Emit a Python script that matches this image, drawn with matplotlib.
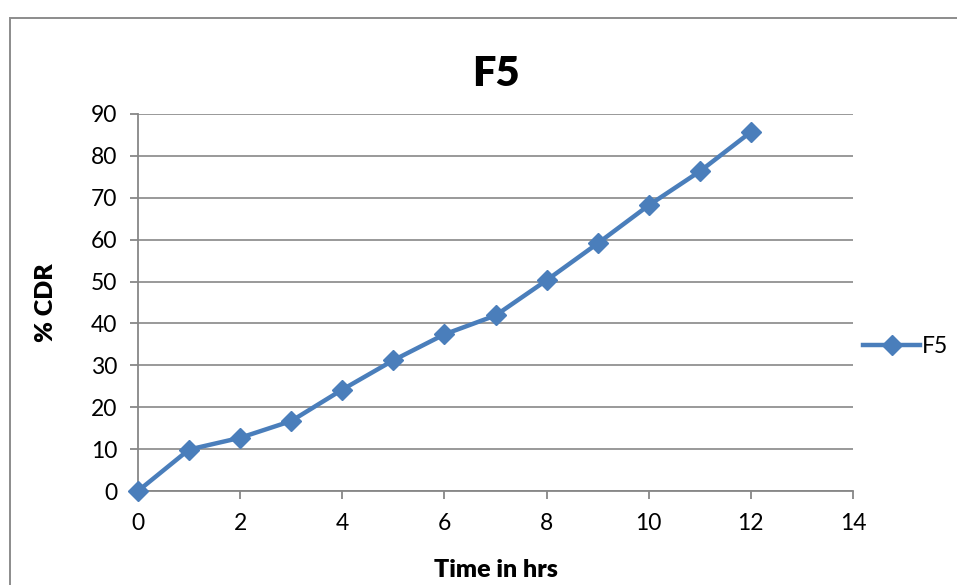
"""Cumulative drug release curve for formulation F5."""

import matplotlib.pyplot as plt
from matplotlib.patches import Rectangle

# data
time_hrs = [0, 1, 2, 3, 4, 5, 6, 7, 8, 9, 10, 11, 12]
cdr_percent = [0, 9.9, 12.7, 16.7, 24.2, 31.2, 37.4, 41.9, 50.3, 59.1, 68.2, 76.3, 85.7]
series_name = "F5"
x_ticks = [0, 2, 4, 6, 8, 10, 12, 14]
y_ticks = [0, 10, 20, 30, 40, 50, 60, 70, 80, 90]

LINE_COLOR = "#4A7EBB"
GRID_COLOR = "#878787"

plt.rcParams["font.family"] = ["Lato", "DejaVu Sans"]

fig = plt.figure(figsize=(9.57, 5.85), dpi=100)
ax = fig.add_axes([138 / 957, 1 - 491 / 585, (853 - 138) / 957, (491 - 114) / 585])

# outer chart frame (cropped on the right and bottom like the original)
fig.patches.append(
    Rectangle((10 / 957, -0.1), 1.2, 1.1 - 18 / 585,
              transform=fig.transFigure, fill=False,
              edgecolor="#8C8C8C", linewidth=1.4, zorder=0)
)

ax.plot(time_hrs, cdr_percent, color=LINE_COLOR, linewidth=3.2,
        marker="D", markersize=10, label=series_name, zorder=3,
        clip_on=False)

ax.set_xlim(0, 14)
ax.set_ylim(0, 90)
ax.set_xticks(x_ticks)
ax.set_yticks(y_ticks)
ax.tick_params(axis="both", labelsize=16.5, colors=GRID_COLOR, labelcolor="black",
               length=6, width=1.3, direction="out")
ax.tick_params(axis="x", pad=10)
ax.tick_params(axis="y", pad=9)

ax.grid(axis="y", color=GRID_COLOR, linewidth=1.2)
ax.set_axisbelow(True)
for side in ("top", "right"):
    ax.spines[side].set_visible(False)
for side in ("left", "bottom"):
    ax.spines[side].set_color(GRID_COLOR)
    ax.spines[side].set_linewidth(1.3)

ax.set_title(series_name, fontsize=30, fontweight="heavy", pad=20)
ax.set_xlabel("Time in hrs", fontsize=18, fontweight="heavy", labelpad=18)
ax.set_ylabel("% CDR", fontsize=18, fontweight="heavy", labelpad=24)

ax.legend(loc="center left", bbox_to_anchor=(0.995, 0.382), frameon=False,
          fontsize=16.5, handlelength=2.5, handletextpad=0.05, borderaxespad=0.2)

fig.savefig("out.png", dpi=100)
